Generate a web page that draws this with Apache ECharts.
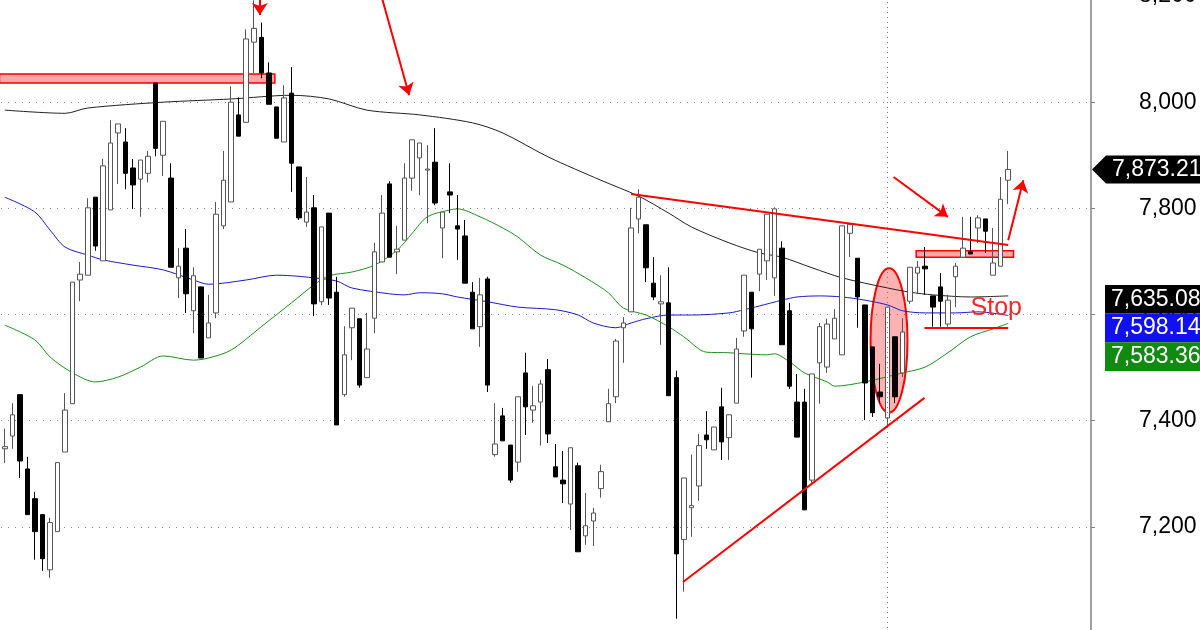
<!DOCTYPE html>
<html>
<head>
<meta charset="utf-8">
<script src="https://cdn.jsdelivr.net/npm/echarts@6/dist/echarts.min.js"></script>
<style>
  html, body { margin: 0; padding: 0; background: #fff; }
  #main { width: 1200px; height: 630px; }
</style>
</head>
<body>
<div id="main"></div>
<script>
// daily sessions, oldest first
const opens = [7347, 7371, 7449, 7309, 7253, 7223, 7119, 7191, 7341, 7432,
  7665, 7674, 7821, 7701, 7797, 7942, 7925, 7876, 7855, 7866,
  8036, 7900, 7857, 7669, 7725, 7607, 7652, 7556, 7603, 7767,
  7812, 7976, 7962, 8113, 8122, 8055, 7991, 7925, 8017, 7878,
  7774, 7801, 7624, 7791, 7642, 7449, 7575, 7592, 7481, 7593,
  7699, 7846, 7718, 7740, 7857, 7895, 7872, 7887, 7763, 7831,
  7767, 7748, 7642, 7577, 7667, 7336, 7409, 7354, 7322, 7490,
  7420, 7435, 7496, 7313, 7288, 7243, 7315, 7183, 7211, 7272,
  7398, 7445, 7575, 7605, 7780, 7769, 7659, 7620, 7622, 7481,
  7176, 7236, 7277, 7373, 7345, 7426, 7368, 7433, 7569, 7642,
  7676, 7701, 7669, 7725, 7607, 7435, 7435, 7288, 7509, 7501,
  7554, 7524, 7753, 7706, 7618, 7539, 7454, 7405, 7558, 7490,
  7625, 7678, 7691, 7635, 7652, 7582, 7671, 7708, 7718, 7763,
  7780, 7674, 7691, 7853];
const highs = [7385, 7433, 7449, 7332, 7266, 7223, 7217, 7321, 7452, 7661,
  7699, 7819, 7821, 7893, 7966, 7959, 7951, 7893, 7891, 7908,
  8036, 7964, 7885, 7725, 7761, 7689, 7652, 7637, 7812, 7908,
  8030, 8009, 8137, 8192, 8150, 8075, 7991, 8032, 8066, 7878,
  7859, 7825, 7765, 7791, 7671, 7578, 7612, 7592, 7603, 7735,
  7825, 7851, 7767, 7885, 7929, 7923, 7919, 7951, 7793, 7885,
  7825, 7778, 7661, 7669, 7671, 7433, 7424, 7354, 7445, 7528,
  7465, 7477, 7516, 7356, 7343, 7349, 7321, 7264, 7236, 7317,
  7460, 7554, 7595, 7801, 7836, 7769, 7708, 7674, 7689, 7494,
  7292, 7336, 7375, 7418, 7388, 7462, 7411, 7556, 7674, 7642,
  7723, 7789, 7802, 7738, 7622, 7488, 7460, 7488, 7584, 7592,
  7610, 7767, 7770, 7706, 7618, 7539, 7507, 7614, 7558, 7593,
  7689, 7701, 7727, 7635, 7678, 7637, 7697, 7784, 7784, 7787,
  7780, 7763, 7859, 7908];
const lows = [7320, 7347, 7292, 7223, 7138, 7117, 7104, 7191, 7341, 7432,
  7625, 7674, 7720, 7701, 7797, 7846, 7836, 7799, 7784, 7849,
  7898, 7861, 7689, 7631, 7603, 7565, 7518, 7556, 7593, 7761,
  7812, 7936, 7962, 8055, 8045, 7996, 7932, 7925, 7831, 7778,
  7765, 7597, 7618, 7618, 7392, 7445, 7514, 7462, 7481, 7565,
  7699, 7708, 7676, 7740, 7833, 7825, 7772, 7806, 7706, 7791,
  7703, 7659, 7573, 7539, 7454, 7332, 7362, 7283, 7304, 7373,
  7396, 7353, 7358, 7294, 7245, 7194, 7153, 7166, 7164, 7255,
  7398, 7433, 7509, 7605, 7753, 7661, 7627, 7543, 7447, 7027,
  7078, 7181, 7249, 7347, 7345, 7326, 7326, 7433, 7558, 7481,
  7644, 7665, 7635, 7543, 7460, 7369, 7232, 7283, 7432, 7490,
  7554, 7524, 7708, 7575, 7401, 7407, 7433, 7386, 7433, 7482,
  7620, 7639, 7637, 7577, 7577, 7577, 7614, 7708, 7714, 7735,
  7716, 7674, 7691, 7808];
const closes = [7351, 7411, 7324, 7223, 7191, 7140, 7208, 7321, 7420, 7661,
  7676, 7801, 7729, 7880, 7923, 7959, 7866, 7844, 7891, 7898,
  7913, 7964, 7689, 7691, 7639, 7673, 7518, 7584, 7789, 7853,
  8000, 7936, 8119, 8139, 8055, 7996, 7932, 8008, 7885, 7782,
  7793, 7620, 7765, 7631, 7392, 7524, 7612, 7467, 7535, 7718,
  7791, 7708, 7723, 7857, 7929, 7923, 7874, 7810, 7793, 7825,
  7761, 7659, 7573, 7637, 7467, 7356, 7362, 7288, 7445, 7426,
  7428, 7469, 7375, 7294, 7281, 7349, 7153, 7202, 7226, 7304,
  7432, 7550, 7584, 7763, 7821, 7688, 7633, 7624, 7447, 7149,
  7292, 7240, 7353, 7364, 7388, 7360, 7411, 7535, 7674, 7573,
  7723, 7789, 7799, 7543, 7465, 7369, 7232, 7488, 7577, 7582,
  7593, 7767, 7770, 7633, 7471, 7415, 7445, 7614, 7445, 7567,
  7689, 7689, 7686, 7614, 7625, 7627, 7691, 7725, 7714, 7782,
  7757, 7697, 7817, 7873.21];

// moving averages: [session, value]
const maLong = [[0, 7985], [8, 7979], [11, 7989], [21, 8000], [30, 8006], [38, 8013], [43, 8006],
  [48, 7985], [55, 7976], [62, 7961], [66, 7942], [72, 7897], [79, 7853], [84, 7823], [88, 7791],
  [91, 7765], [96, 7735], [100, 7716], [103, 7708], [107, 7688], [111, 7669], [117, 7650],
  [120, 7642], [123, 7637], [128, 7633], [133, 7635.08]];
const maMid = [[0, 7821], [4, 7793], [6, 7759], [8, 7727], [11, 7712], [13, 7703], [17, 7693],
  [21, 7684], [25, 7665], [27, 7657], [32, 7665], [36, 7674], [38, 7673], [41, 7669], [44, 7663],
  [46, 7650], [51, 7639], [53, 7637], [55, 7641], [58, 7639], [60, 7633], [64, 7624], [68, 7614],
  [73, 7609], [76, 7599], [78, 7584], [81, 7575], [83, 7584], [85, 7592], [88, 7599], [91, 7599],
  [96, 7603], [98, 7609], [100, 7616], [103, 7627], [105, 7633], [108, 7635], [111, 7633],
  [114, 7627], [117, 7618], [119, 7607], [122, 7603], [126, 7603], [129, 7605], [133, 7598.14]];
const maShort = [[0, 7580], [4, 7552], [6, 7520], [9, 7490], [12, 7473], [15, 7482], [18, 7501],
  [21, 7522], [25, 7514], [27, 7518], [30, 7533], [34, 7577], [38, 7622], [41, 7656], [43, 7673],
  [46, 7680], [49, 7693], [52, 7721], [54, 7753], [56, 7784], [59, 7797], [60, 7799], [63, 7784],
  [66, 7763], [68, 7746], [71, 7712], [74, 7693], [77, 7669], [80, 7641], [82, 7612], [85, 7599],
  [88, 7577], [90, 7558], [93, 7529], [96, 7528], [98, 7526], [101, 7524], [102, 7526], [104, 7511],
  [106, 7490], [109, 7473], [110, 7465], [114, 7473], [119, 7490], [122, 7501], [125, 7528],
  [128, 7558], [131, 7573], [133, 7583.36]];

// hand-drawn markup, in [session, price]
const trendLines = [
  [[83.0, 7827], [133.0, 7731]],
  [[89.9, 7096], [121.9, 7443]],
  [[121.9, 7575], [133.0, 7575]]
];
const arrows = [
  [[33.8, 8196], [33.8, 8164]],
  [[50.0, 8196], [53.6, 8013]],
  [[117.8, 7859], [125.0, 7784]],
  [[133.0, 7740], [135.0, 7853]]
];
const bands = [[-0.7, 8053, 35.8, 8036], [120.8, 7720, 133.7, 7708]];
const ellipses = [[117.2, 7551, 2.45, 136]];
const notes = [[128.0, 7612, 'Stop']];
const separatorSession = 117;
const yMin = 7000, yMax = 8200, yStep = 200;

const candles = opens.map((o, i) => [o, closes[i], lows[i], highs[i]]);
const fmt = v => v.toLocaleString('en-US');
const fmt2 = v => v.toLocaleString('en-US', { minimumFractionDigits: 2, maximumFractionDigits: 2 });
const RED = '#ff0000';
const FONT = '"Liberation Sans", Arial, sans-serif';

const chart = echarts.init(document.getElementById('main'));
chart.setOption({
  animation: false,
  backgroundColor: '#fff',
  grid: { left: 1, right: 105, top: -4, bottom: -3, containLabel: false, outerBoundsMode: 'none' },
  xAxis: [
    { type: 'category', min: 0, max: 144, boundaryGap: true, show: false },
    { type: 'value', min: -0.5, max: 144.5, show: false }
  ],
  yAxis: {
    type: 'value', position: 'right', min: yMin, max: yMax, interval: yStep, offset: -4,
    axisLine: { show: true, onZero: false, lineStyle: { color: '#808080', width: 1.5 } },
    axisTick: { show: true, length: 4, lineStyle: { color: '#808080' } },
    axisLabel: {
      margin: 48, color: '#000', fontSize: 23, fontFamily: FONT,
      showMinLabel: false, showMaxLabel: true, formatter: fmt
    },
    splitLine: { show: true, lineStyle: { type: [1, 6], color: '#888', width: 1 } }
  },
  series: [
    {
      type: 'custom', xAxisIndex: 1, z: 1, silent: true,
      data: bands, encode: { x: [0, 2], y: [1, 3] },
      renderItem: (params, api) => {
        const a = api.coord([api.value(0), api.value(1)]);
        const b = api.coord([api.value(2), api.value(3)]);
        return {
          type: 'rect',
          shape: { x: Math.min(a[0], b[0]), y: Math.min(a[1], b[1]), width: Math.abs(b[0] - a[0]), height: Math.abs(b[1] - a[1]) },
          style: { fill: 'rgba(255,0,0,0.35)', stroke: RED, lineWidth: 1.5 }
        };
      }
    },
    {
      type: 'custom', xAxisIndex: 1, z: 1, silent: true,
      data: ellipses, encode: { x: 0, y: 1 },
      renderItem: (params, api) => {
        const c = api.coord([api.value(0), api.value(1)]);
        const s = api.size([api.value(2), api.value(3)]);
        return {
          type: 'ellipse',
          shape: { cx: c[0], cy: c[1], rx: s[0], ry: s[1] },
          style: { fill: 'rgba(255,0,0,0.3)', stroke: RED, lineWidth: 2 }
        };
      }
    },
    { type: 'line', xAxisIndex: 1, data: maLong, smooth: 0.3, showSymbol: false, z: 1, silent: true,
      lineStyle: { color: '#222', width: 1 } },
    { type: 'line', xAxisIndex: 1, data: maMid, smooth: 0.3, showSymbol: false, z: 1, silent: true,
      lineStyle: { color: '#1a1ad0', width: 1 } },
    { type: 'line', xAxisIndex: 1, data: maShort, smooth: 0.3, showSymbol: false, z: 1, silent: true,
      lineStyle: { color: '#1b921b', width: 1 } },
    {
      type: 'candlestick', data: candles, barWidth: 5, z: 3,
      itemStyle: { color: '#fff', color0: '#000', borderColor: '#555', borderColor0: '#000', borderWidth: 1 },
      markLine: {
        silent: true, symbol: 'none', label: { show: false },
        lineStyle: { type: [1, 4], color: '#777', width: 1 },
        data: [{ xAxis: separatorSession }]
      }
    },
    {
      type: 'lines', coordinateSystem: 'cartesian2d', xAxisIndex: 1, z: 5, silent: true,
      symbol: 'none', lineStyle: { color: RED, width: 2, opacity: 1 },
      data: trendLines.map(c => ({ coords: c }))
    },
    {
      type: 'lines', coordinateSystem: 'cartesian2d', xAxisIndex: 1, z: 5, silent: true,
      symbol: ['none', 'arrow'], symbolSize: 12, lineStyle: { color: RED, width: 2, opacity: 1 },
      data: arrows.map(c => ({ coords: c }))
    },
    {
      type: 'custom', xAxisIndex: 1, z: 6, silent: true,
      data: notes, encode: { x: 0, y: 1 },
      renderItem: (params, api) => {
        const p = api.coord([api.value(0), api.value(1)]);
        return {
          type: 'text', x: p[0], y: p[1],
          style: { text: notes[params.dataIndex][2], fill: '#f02a2a', font: '25px ' + FONT, align: 'left', verticalAlign: 'middle' }
        };
      }
    }
  ]
});

// price tags on the right axis
const last = closes[closes.length - 1];
const yc = chart.convertToPixel({ yAxisIndex: 0 }, last);
const tags = [
  { value: maLong[maLong.length - 1][1], color: '#000' },
  { value: maMid[maMid.length - 1][1], color: '#1010f0' },
  { value: maShort[maShort.length - 1][1], color: '#108a10' }
];
const top0 = chart.convertToPixel({ yAxisIndex: 0 }, tags[0].value) - 11;
const h = 28.7;
const graphics = [
  { type: 'polygon', shape: { points: [[1092, yc], [1106, yc - 14], [1200, yc - 14], [1200, yc + 14], [1106, yc + 14]] },
    style: { fill: '#000' }, z: 100 },
  { type: 'text', x: 1112, y: yc, style: { text: fmt2(last), fill: '#fff', font: '23px ' + FONT, verticalAlign: 'middle' }, z: 101 }
];
tags.forEach((t, k) => {
  const y0 = top0 + k * h;
  graphics.push({ type: 'rect', shape: { x: 1105, y: y0, width: 95, height: h }, style: { fill: t.color }, z: 100 });
  graphics.push({ type: 'text', x: 1111, y: y0 + h / 2, style: { text: fmt2(t.value), fill: '#fff', font: '23px ' + FONT, verticalAlign: 'middle' }, z: 101 });
});
chart.setOption({ graphic: graphics });
</script>
</body>
</html>
